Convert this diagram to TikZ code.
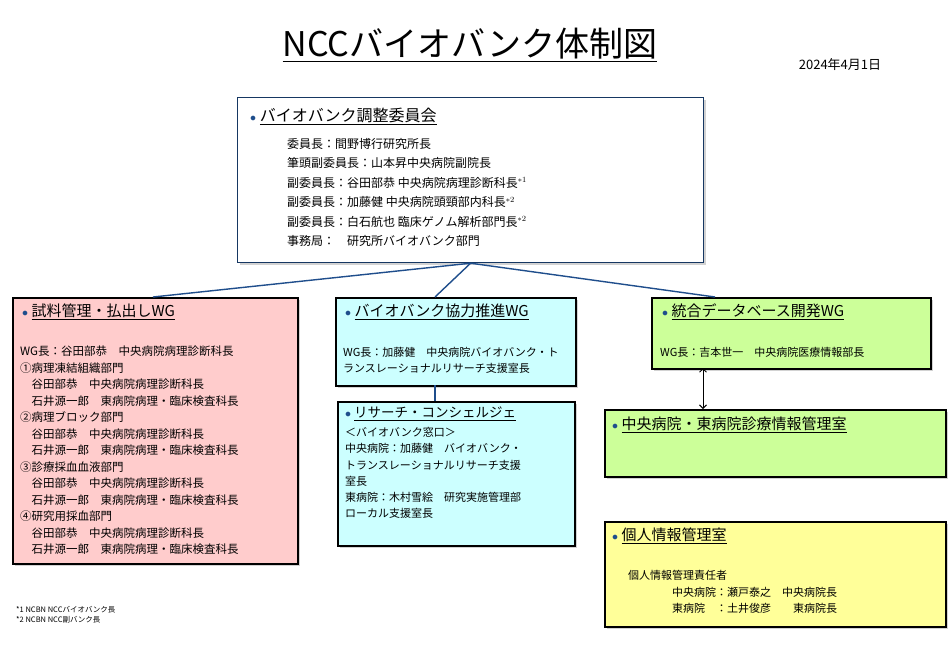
\documentclass[tikz,border=0pt]{standalone}
\usepackage{fontspec}
\setmainfont{Noto Sans CJK JP}
\usetikzlibrary{shadows,arrows.meta}
\definecolor{navy}{HTML}{1F4E8C}
\definecolor{pinkbg}{HTML}{FFCCCC}
\definecolor{cyanbg}{HTML}{CCFFFF}
\definecolor{greenbg}{HTML}{CCFF99}
\definecolor{yellowbg}{HTML}{FFFF99}
\newcommand{\bdot}{{\color{navy}\large$\bullet$}\ }
\newcommand{\hd}[1]{\bdot\underline{#1}}
\tikzset{
  box/.style={draw, line width=1.6pt, rectangle, anchor=north west, inner sep=0pt,
    drop shadow={shadow xshift=2pt, shadow yshift=-2pt, opacity=.35}},
  head/.style={anchor=north west, inner sep=0pt, font=\fontsize{15}{18}\selectfont},
  body/.style={anchor=north west, inner sep=0pt, align=left, font=\fontsize{11.5}{16.5}\selectfont},
  link/.style={draw=navy, line width=1.4pt}
}
\begin{document}
\begin{tikzpicture}[x=1pt,y=-1pt]
  \useasboundingbox[fill=white] (0,0) rectangle (950,657);
  % title
  \node[anchor=center, font=\fontsize{34}{40}\selectfont] (title) at (470,45) {\underline{NCCバイオバンク体制図}};
  \node[anchor=center, font=\fontsize{13}{16}\selectfont] (date) at (840,65) {2024年4月1日};
  % committee
  \node[box, draw=navy!70!black, line width=1.2pt, fill=white, minimum width=466pt, minimum height=165pt] (comm) at (237,97) {};
  \node[head, font=\fontsize{16}{20}\selectfont] (commh) at (250,108) {\hd{バイオバンク調整委員会}};
  \node[body, font=\fontsize{12}{19.5}\selectfont] (commb) at (287,138) {委員長：間野博行研究所長\\
    筆頭副委員長：山本昇中央病院副院長\\
    副委員長：谷田部恭 中央病院病理診断科長$^{*1}$\\
    副委員長：加藤健 中央病院頭頸部内科長$^{*2}$\\
    副委員長：白石航也 臨床ゲノム解析部門長$^{*2}$\\
    事務局：\quad 研究所バイオバンク部門};
  % WG boxes
  \node[box, fill=pinkbg, minimum width=285pt, minimum height=266pt] (pink) at (12,297) {};
  \node[head] (pinkh) at (22,304) {\hd{試料管理・払出しWG}};
  \node[body] (pinkb) at (20,346) {WG長：谷田部恭\quad 中央病院病理診断科長\\
    ①病理凍結組織部門\\
    \quad 谷田部恭\quad 中央病院病理診断科長\\
    \quad 石井源一郎\quad 東病院病理・臨床検査科長\\
    ②病理ブロック部門\\
    \quad 谷田部恭\quad 中央病院病理診断科長\\
    \quad 石井源一郎\quad 東病院病理・臨床検査科長\\
    ③診療採血血液部門\\
    \quad 谷田部恭\quad 中央病院病理診断科長\\
    \quad 石井源一郎\quad 東病院病理・臨床検査科長\\
    ④研究用採血部門\\
    \quad 谷田部恭\quad 中央病院病理診断科長\\
    \quad 石井源一郎\quad 東病院病理・臨床検査科長};
  \node[box, fill=cyanbg, minimum width=240pt, minimum height=88pt] (coop) at (335,297) {};
  \node[head] (cooph) at (345,304) {\hd{バイオバンク協力推進WG}};
  \node[body, font=\fontsize{11}{16}\selectfont] (coopb) at (343,347) {WG長：加藤健\quad 中央病院バイオバンク・ト\\ランスレーショナルリサーチ支援室長};
  \node[box, fill=cyanbg, minimum width=237pt, minimum height=144pt] (conc) at (337,401) {};
  \node[head, font=\fontsize{13.5}{16}\selectfont] (conch) at (345,407) {\hd{リサーチ・コンシェルジェ}};
  \node[body, font=\fontsize{11}{16.3}\selectfont] (concb) at (345,427) {＜バイオバンク窓口＞\\
    中央病院：加藤健\quad バイオバンク・\\
    トランスレーショナルリサーチ支援\\
    室長\\
    東病院：木村雪絵\quad 研究実施管理部\\
    ローカル支援室長};
  \node[box, fill=greenbg, minimum width=279pt, minimum height=71pt] (data) at (651,297) {};
  \node[head] (datah) at (662,304) {\hd{統合データベース開発WG}};
  \node[body, font=\fontsize{11}{16}\selectfont] (datab) at (660,347) {WG長：吉本世一\quad 中央病院医療情報部長};
  \node[box, fill=greenbg, minimum width=341pt, minimum height=67pt] (info) at (604,409) {};
  \node[head] (infoh) at (612,417) {\hd{中央病院・東病院診療情報管理室}};
  \node[box, fill=yellowbg, minimum width=341pt, minimum height=105pt] (priv) at (604,521) {};
  \node[head] (privh) at (612,528) {\hd{個人情報管理室}};
  \node[body, font=\fontsize{11}{16.5}\selectfont] (privb) at (628,570) {個人情報管理責任者\\
    \hspace{44pt}中央病院：瀬戸泰之\quad 中央病院長\\
    \hspace{44pt}東病院\quad ：土井俊彦\qquad 東病院長};
  % footnotes
  \node[body, font=\fontsize{7.5}{10}\selectfont] (note) at (16,606) {*1 NCBN NCCバイオバンク長\\*2 NCBN NCC副バンク長};
  % links
  \coordinate (hub) at (comm.south);
  \coordinate (pinktop) at (153,297);
  \coordinate (cooptop) at (435,297);
  \coordinate (coopbot) at (435,385);
  \coordinate (conctop) at (435,401);
  \coordinate (datatop) at (715,297);
  \coordinate (databot) at (703,368);
  \coordinate (infotop) at (703,409);
  \draw[link] (hub) -- (pinktop);
  \draw[link] (hub) -- (cooptop);
  \draw[link] (hub) -- (datatop);
  \draw[link] (coopbot) -- (conctop);
  \draw[{Straight Barb[]}-{Straight Barb[]}, line width=1pt] (databot) -- (infotop);
\end{tikzpicture}
\end{document}
